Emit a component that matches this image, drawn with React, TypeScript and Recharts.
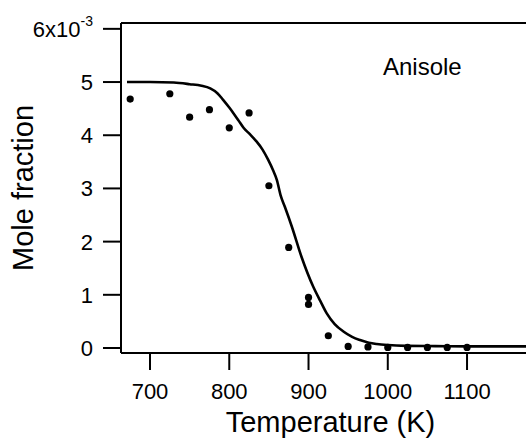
import { ComposedChart, Line, Scatter, XAxis, YAxis, ReferenceLine, Label } from 'recharts';

// Measured mole fraction (x10^-3) vs temperature
const measuredTemps = [675, 725, 750, 775, 800, 825, 850, 875, 900, 900, 925, 950, 975, 1000, 1025, 1050, 1075, 1100];
const measuredValues = [4.68, 4.78, 4.34, 4.48, 4.14, 4.42, 3.05, 1.89, 0.95, 0.82, 0.23, 0.03, 0.02, 0.01, 0.01, 0.01, 0.01, 0.01];

// Model curve
const modelTemps = [671, 700, 730, 750, 765, 776, 785, 792, 800, 805, 812, 818, 826, 834, 842, 849, 855, 860, 865, 870, 879, 891, 906, 915, 923, 933, 944, 955, 965, 976, 986, 1000, 1023, 1060, 1100, 1175];
const modelValues = [5.0, 5.0, 4.99, 4.96, 4.93, 4.88, 4.79, 4.67, 4.52, 4.42, 4.27, 4.14, 4.02, 3.89, 3.73, 3.54, 3.35, 3.16, 2.86, 2.66, 2.28, 1.72, 1.15, 0.88, 0.65, 0.45, 0.31, 0.21, 0.15, 0.1, 0.075, 0.055, 0.04, 0.035, 0.03, 0.03];

const xTicks = [700, 800, 900, 1000, 1100];
const yTicks = [0, 1, 2, 3, 4, 5, 6];

const X_DOMAIN: [number, number] = [663.4, 1174.4];
const Y_DOMAIN: [number, number] = [-0.094, 6.11];

const FONT = '"Liberation Sans", Arial, Helvetica, sans-serif';

const points = measuredTemps.map((t, i) => ({ t, v: measuredValues[i] }));
const curve = modelTemps.map((t, i) => ({ t, v: modelValues[i] }));

const YTick = ({ x, y, payload }: any) => {
  if (payload.value === 6) {
    return (
      <text x={x} y={y} dy="0.36em" textAnchor="end" fontFamily={FONT} fontSize={22} fill="#000">
        <tspan>6x10</tspan>
        <tspan dy={-11} fontSize={14}>-3</tspan>
      </text>
    );
  }
  return (
    <text x={x} y={y} dy="0.36em" textAnchor="end" fontFamily={FONT} fontSize={22} fill="#000">
      {payload.value}
    </text>
  );
};

const Dot = (props: any) => <circle cx={props.cx} cy={props.cy} r={3.6} fill="#000" />;

const YTitle = ({ viewBox }: any) => {
  const cx = viewBox.x + 23;
  const cy = viewBox.y + viewBox.height / 2;
  return (
    <text
      x={cx}
      y={cy}
      transform={`rotate(-90 ${cx} ${cy})`}
      textAnchor="middle"
      dominantBaseline="central"
      fontFamily={FONT}
      fontSize={29}
      fill="#000"
    >
      Mole fraction
    </text>
  );
};

export default function App() {
  return (
    <div style={{ position: 'absolute', left: 0, top: 0, background: '#fff' }}>
      <ComposedChart width={526} height={439} margin={{ top: 23, right: 0, bottom: 0, left: 0 }}>
        <XAxis
          dataKey="t"
          type="number"
          domain={X_DOMAIN}
          ticks={xTicks}
          allowDataOverflow
          height={86}
          tickSize={17}
          tickMargin={13}
          axisLine={{ stroke: '#000', strokeWidth: 2 }}
          tickLine={{ stroke: '#000', strokeWidth: 2 }}
          tick={{ fill: '#000', fontSize: 22, fontFamily: FONT }}
        >
          <Label
            value="Temperature (K)"
            position="insideBottom"
            offset={7}
            dx={7}
            fill="#000"
            fontSize={29}
            fontFamily={FONT}
          />
        </XAxis>
        <YAxis
          dataKey="v"
          type="number"
          domain={Y_DOMAIN}
          ticks={yTicks}
          allowDataOverflow
          width={121}
          tickSize={18}
          tickMargin={10}
          axisLine={{ stroke: '#000', strokeWidth: 2 }}
          tickLine={{ stroke: '#000', strokeWidth: 2 }}
          tick={<YTick />}
        >
          <Label content={<YTitle />} />
        </YAxis>
        <ReferenceLine y={Y_DOMAIN[1]} stroke="#000" strokeWidth={2} />
        <Line
          data={curve}
          dataKey="v"
          type="monotone"
          stroke="#000"
          strokeWidth={2.6}
          dot={false}
          isAnimationActive={false}
        />
        <Scatter data={points} dataKey="v" shape={<Dot />} isAnimationActive={false} />
        <text x={383} y={75} fontFamily={FONT} fontSize={24} fill="#000">
          Anisole
        </text>
      </ComposedChart>
    </div>
  );
}
